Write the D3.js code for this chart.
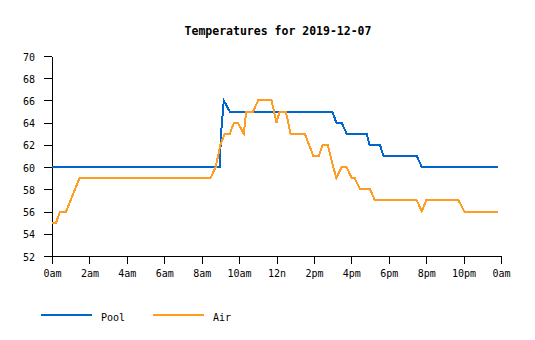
<!DOCTYPE html>
<html>
<head>
<meta charset="utf-8">
<script src="https://cdn.jsdelivr.net/npm/d3@7"></script>
<style>
  html, body { margin: 0; padding: 0; background: #fff; }
  svg { display: block; font-family: "DejaVu Sans Mono", "Liberation Mono", monospace; }
</style>
</head>
<body>
<svg id="chart" width="535" height="340"></svg>
<script>
// Temperature readings for the day (time "HH:MM", degrees)
const poolTimes = ["00:00","08:58","09:02","09:11","09:30","14:59","15:12","15:29","15:45","16:49","16:58","17:32","17:43","19:30","19:46","23:50"];
const poolValues = [60, 60, 63, 66, 65, 65, 64, 64, 63, 63, 62, 62, 61, 61, 60, 60];

const airTimes = ["00:00","00:13","00:26","00:45","01:28","08:28","08:45","09:00","09:14","09:30","09:44","09:56","10:15","10:23","10:45","11:01","11:44","12:00","12:10","12:30","12:45","13:31","13:58","14:16","14:28","14:44","15:02","15:12","15:29","15:45","16:01","16:11","16:28","17:00","17:16","19:30","19:46","20:00","21:44","22:02","23:50"];
const airValues = [55, 55, 56, 56, 59, 59, 60, 62, 63, 63, 64, 64, 63, 65, 65, 66, 66, 64, 65, 65, 63, 63, 61, 61, 62, 62, 60, 59, 60, 60, 59, 59, 58, 58, 57, 57, 56, 57, 57, 56, 56];

const hourTicks = [0, 2, 4, 6, 8, 10, 12, 14, 16, 18, 20, 22, 24];
const hourTickLabels = ["0am","2am","4am","6am","8am","10am","12n","2pm","4pm","6pm","8pm","10pm","0am"];
const tempTicks = [52, 54, 56, 58, 60, 62, 64, 66, 68, 70];

const titleText = "Temperatures for 2019-12-07";
const seriesNames = ["Pool", "Air"];
const seriesColors = ["#0066cc", "#ff9c24"];

const toHours = s => { const [h, m] = s.split(":").map(Number); return h + m / 60; };
const series = [
  poolTimes.map((t, i) => ({ h: toHours(t), v: poolValues[i] })),
  airTimes.map((t, i) => ({ h: toHours(t), v: airValues[i] }))
];

const svg = d3.select("#chart");
const left = 52;

const x = d3.scaleLinear().domain([0, 24]).range([0, 449]);
const y = d3.scaleLinear().domain([52, 70]).range([256, 56]);

const g = svg.append("g").attr("transform", `translate(${left},0)`);

// y axis
const yAxis = g.append("g")
  .call(d3.axisLeft(y).tickValues(tempTicks).tickSize(8).tickSizeOuter(0).tickPadding(9));
yAxis.selectAll("text").attr("dy", "0.4em");

// x axis
const xAxis = g.append("g")
  .attr("transform", `translate(0,${256})`)
  .call(d3.axisBottom(x).tickValues(hourTicks).tickSize(8).tickSizeOuter(0).tickPadding(6)
    .tickFormat((d, i) => hourTickLabels[i]));

[yAxis, xAxis].forEach(ax => {
  ax.selectAll("path, line").attr("stroke", "#000").attr("shape-rendering", "crispEdges");
  ax.selectAll("text").attr("font-size", 10).attr("fill", "#000")
    .attr("font-family", "DejaVu Sans Mono, monospace");
});

// series lines
const line = d3.line().x(d => x(d.h)).y(d => y(d.v));
series.forEach((data, i) => {
  g.append("path")
    .datum(data)
    .attr("fill", "none")
    .attr("stroke", seriesColors[i])
    .attr("stroke-width", 2)
    .attr("shape-rendering", "crispEdges")
    .attr("d", line);
});

// title
svg.append("text")
  .attr("x", 278)
  .attr("y", 35)
  .attr("text-anchor", "middle")
  .attr("font-size", 11.5)
  .attr("font-weight", "bold")
  .text(titleText);

// legend
const legendX = [41, 153];
seriesNames.forEach((name, i) => {
  svg.append("line")
    .attr("x1", legendX[i]).attr("x2", legendX[i] + 51)
    .attr("y1", 315).attr("y2", 315)
    .attr("stroke", seriesColors[i])
    .attr("stroke-width", 2)
    .attr("shape-rendering", "crispEdges");
  svg.append("text")
    .attr("x", legendX[i] + 60)
    .attr("y", 320.5)
    .attr("font-size", 10)
    .text(name);
});
</script>
</body>
</html>
